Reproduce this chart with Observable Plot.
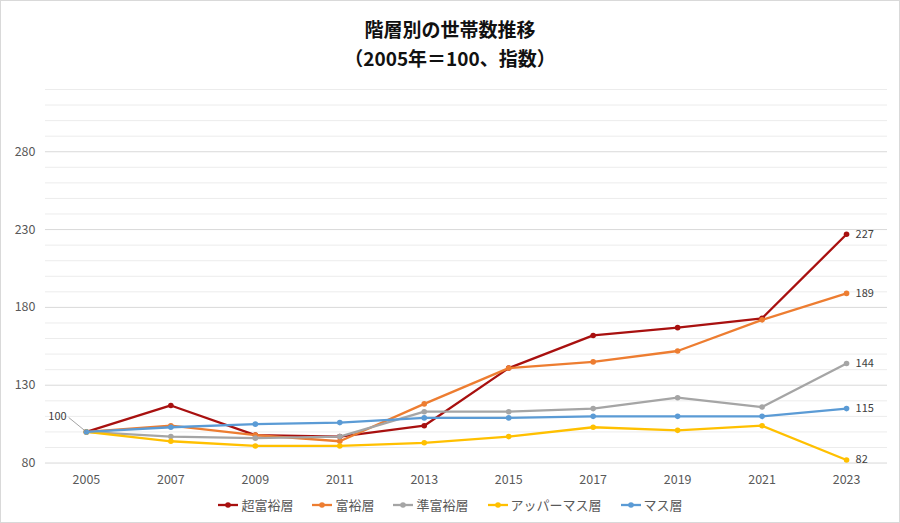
<!DOCTYPE html>
<html><head><meta charset="utf-8">
<script src="https://cdn.jsdelivr.net/npm/d3@7"></script>
<script src="https://cdn.jsdelivr.net/npm/@observablehq/plot@0.6"></script>
<style>
html,body{margin:0;background:#fff;}
#wrap{width:898px;height:521px;border:1px solid #d9d9d9;position:relative;font-family:"Noto Sans CJK JP",sans-serif;overflow:hidden;}
.t{position:absolute;left:0;width:100%;text-align:center;font-weight:bold;color:#111;font-size:19px;line-height:24px;}
#chart{position:absolute;top:73px;left:-1px;}
#legend{position:absolute;top:494px;left:0;width:100%;display:flex;justify-content:center;gap:18px;font-size:13px;color:#595959;}
#legend .it{display:flex;align-items:center;gap:2px;}
</style></head><body>
<div id="wrap">
<div class="t" style="top:16px">階層別の世帯数推移</div>
<div class="t" style="top:45px">（2005年＝100、指数）</div>
<div id="chart"></div>
<div id="legend"></div>
</div>
<script>
const years = [2005, 2007, 2009, 2011, 2013, 2015, 2017, 2019, 2021, 2023];
const seriesNames = ["超富裕層", "富裕層", "準富裕層", "アッパーマス層", "マス層"];
const seriesColors = ["#A8100F", "#ED7D31", "#A5A5A5", "#FFC000", "#5B9BD5"];
const ultraRich = [100, 117, 98, 97, 104, 141, 162, 167, 173, 227];
const rich = [100, 104, 98, 94, 118, 141, 145, 152, 172, 189];
const semiRich = [100, 97, 96, 97, 113, 113, 115, 122, 116, 144];
const upperMass = [100, 94, 91, 91, 93, 97, 103, 101, 104, 82];
const mass = [100, 103, 105, 106, 109, 109, 110, 110, 110, 115];
const seriesValues = [ultraRich, rich, semiRich, upperMass, mass];
const gridValues = d3.range(80, 321, 10);
const yTickLabels = [80, 130, 180, 230, 280];

const data = seriesNames.map((name, i) => years.map((year, j) => ({series: name, year, value: seriesValues[i][j]})));
const lastPoints = data.map(s => s[s.length - 1]);
const firstPoint = [data[0][0]];

const marks = [
  Plot.ruleY(gridValues, {stroke: d => yTickLabels.includes(d) ? "#d9d9d9" : "#ececec", strokeWidth: 1}),
  Plot.axisY({ticks: yTickLabels, tickSize: 0, tickPadding: 10, fontSize: 12.5, fill: "#595959", label: null}),
  Plot.text(years, {x: d => d, y: 80, dy: 17, text: d => String(d), fontSize: 12.5, fill: "#595959"})
];
data.forEach((s, i) => {
  marks.push(Plot.line(s, {x: "year", y: "value", stroke: seriesColors[i], strokeWidth: 2.3, curve: "linear"}));
  marks.push(Plot.dot(s, {x: "year", y: "value", fill: seriesColors[i], r: 2.8}));
});
marks.push(Plot.text(lastPoints, {x: "year", y: "value", text: d => String(d.value), dx: 9, textAnchor: "start", fontSize: 11, fill: "#404040"}));
marks.push(Plot.link(firstPoint, {x1: "year", y1: "value", x2: d => d.year - 0.42, y2: d => d.value + 9.3, stroke: "#8c8c8c", strokeWidth: 0.8}));
marks.push(Plot.text(firstPoint, {x: "year", y: "value", text: d => String(d.value), dx: -29, dy: -15, fontSize: 11, fill: "#404040"}));

const chart = Plot.plot({
  width: 900, height: 417,
  marginLeft: 45, marginRight: 12, marginTop: 15, marginBottom: 28,
  style: {fontFamily: "'Noto Sans CJK JP', sans-serif", background: "transparent"},
  x: {domain: [2005, 2023], range: [86, 847], axis: null},
  y: {domain: [80, 320], axis: null},
  marks
});
document.getElementById("chart").appendChild(chart);

const legend = document.getElementById("legend");
seriesNames.forEach((name, i) => {
  const it = document.createElement("div");
  it.className = "it";
  it.innerHTML = `<svg width="22" height="10"><line x1="1" y1="5" x2="21" y2="5" stroke="${seriesColors[i]}" stroke-width="2.3"/><circle cx="11" cy="5" r="2.8" fill="${seriesColors[i]}"/></svg><span>${name}</span>`;
  legend.appendChild(it);
});
</script>
</body></html>
